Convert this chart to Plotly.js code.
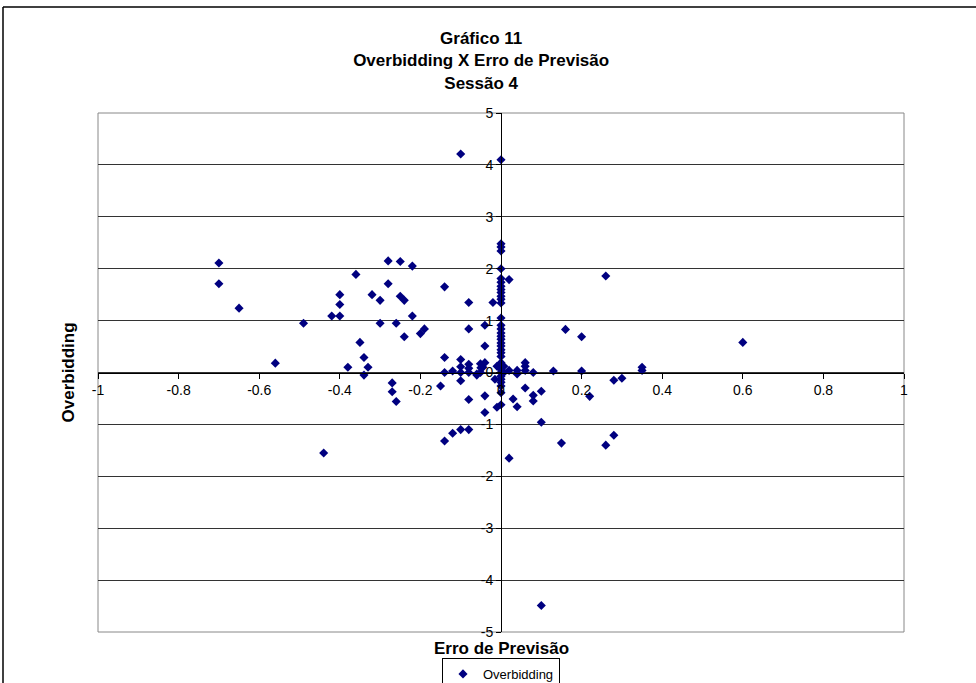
<!DOCTYPE html>
<html>
<head>
<meta charset="utf-8">
<script src="https://cdn.plot.ly/plotly-3.0.1.min.js"></script>
<style>html,body{margin:0;padding:0;background:#fff;}#chart{width:976px;height:683px;}</style>
</head>
<body>
<div id="chart"></div>
<script>
// Erro de Previsão (x) and Overbidding (y)
const erroPrevisao = [
  -0.70,-0.70,-0.65,-0.56,-0.49,-0.44,-0.42,-0.40,-0.40,-0.40,
  -0.38,-0.36,-0.35,-0.34,-0.34,-0.33,-0.32,-0.30,-0.30,-0.28,
  -0.28,-0.27,-0.27,-0.26,-0.26,-0.25,-0.25,-0.24,-0.24,-0.22,
  -0.22,-0.20,-0.19,-0.14,-0.14,-0.14,-0.15,-0.14,-0.12,-0.12,
  -0.10,-0.10,-0.10,-0.10,-0.10,-0.10,-0.08,-0.08,-0.08,-0.08,
  -0.08,-0.08,-0.08,-0.06,-0.051,-0.05,-0.04,-0.045,-0.06,-0.051,
  -0.04,-0.04,-0.04,-0.04,-0.02,-0.015,-0.01,-0.01,0.0,
  0,0,0,0,0,0,0,0,0,0,
  0,0,0,0,0,0,0,0,0,0,
  0,0,0,0,0,0,0,0,0,0,
  0,0,0,
  0.007,0.007,
  0.02,0.02,0.02,0.03,0.04,0.04,0.04,0.06,0.06,0.06,
  0.06,0.08,0.08,0.08,0.10,0.10,0.13,0.15,0.16,0.20,
  0.20,0.22,0.26,0.26,0.28,0.28,0.30,0.35,0.35,0.60,
  0.10
];
const overbidding = [
  2.11,1.71,1.24,0.18,0.95,-1.55,1.09,1.09,1.31,1.50,
  0.10,1.89,0.58,0.29,-0.05,0.10,1.50,1.39,0.95,2.15,
  1.71,-0.20,-0.37,-0.56,0.95,2.14,1.47,1.39,0.69,2.05,
  1.09,0.75,0.84,1.65,0.29,0.00,-0.26,-1.32,0.03,-1.17,
  4.21,0.25,0.11,0.00,-0.16,-1.10,1.35,0.84,0.16,0.08,
  0.00,-0.52,-1.10,-0.03,0.17,0.09,0.19,0.10,-0.05,0.00,
  0.91,0.51,-0.45,-0.77,1.35,-0.13,0.12,-0.67,-0.62,
  4.10,2.48,2.42,2.34,2.00,1.81,1.74,1.66,1.60,1.54,
  1.47,1.41,1.34,1.05,0.91,0.84,0.76,0.70,0.64,0.57,
  0.51,0.44,0.38,0.31,0.19,0.12,0.06,0.00,-0.07,-0.13,
  -0.19,-0.26,-0.39,
  0.12,0.00,
  1.79,0.04,-1.65,-0.51,0.04,-0.03,-0.66,0.19,0.12,0.04,
  -0.30,0.00,-0.44,-0.55,-0.36,-0.96,0.03,-1.36,0.83,0.69,
  0.03,-0.46,1.86,-1.40,-1.21,-0.15,-0.11,0.10,0.04,0.58,
  -4.49
];
const xTickVals = [-1,-0.8,-0.6,-0.4,-0.2,0,0.2,0.4,0.6,0.8,1];
const xTickText = ["-1","-0.8","-0.6","-0.4","-0.2","0","0.2","0.4","0.6","0.8","1"];
const yTickVals = [-5,-4,-3,-2,-1,0,1,2,3,4,5];
const yTickText = ["-5","-4","-3","-2","-1","0","1","2","3","4","5"];

const FONT = '"Liberation Sans", Arial, sans-serif';

const trace = {
  type: 'scatter', mode: 'markers', name: 'Overbidding',
  x: erroPrevisao, y: overbidding,
  marker: {symbol: 'diamond', size: 7, color: '#000080', line: {width: 0}}
};

const layout = {
  width: 976, height: 683,
  paper_bgcolor: '#ffffff', plot_bgcolor: '#ffffff',
  font: {family: FONT, size: 13, color: '#000'},
  margin: {l: 98, r: 72, t: 113, b: 51, autoexpand: false},
  title: {
    text: '<b>Gráfico 11<br>Overbidding X Erro de Previsão<br>Sessão 4</b>',
    font: {family: FONT, size: 17, color: '#000'},
    x: 0.493, xanchor: 'center', xref: 'container',
    y: 0.935, yanchor: 'top', yref: 'container'
  },
  xaxis: {
    range: [-1, 1], tickvals: xTickVals, ticktext: xTickText,
    anchor: 'free', position: 0.5,
    showline: true, linecolor: '#000', linewidth: 1,
    ticks: 'outside', ticklen: 5, tickcolor: '#000',
    showgrid: false, zeroline: false,
    tickfont: {family: FONT, size: 14, color: '#000'}
  },
  yaxis: {
    range: [-5, 5], tickvals: yTickVals, ticktext: yTickText,
    anchor: 'free', position: 0.5,
    showline: true, linecolor: '#000', linewidth: 1,
    ticks: 'outside', ticklen: 5, tickcolor: '#000',
    showgrid: true, gridcolor: '#333', gridwidth: 1,
    zeroline: false,
    tickfont: {family: FONT, size: 14, color: '#000'}
  },
  showlegend: true,
  legend: {
    orientation: 'h', x: 0.5, xanchor: 'center', xref: 'paper',
    y: -0.050, yanchor: 'top',
    bordercolor: '#000', borderwidth: 1, bgcolor: '#fff',
    font: {family: FONT, size: 13, color: '#000'}
  },
  shapes: [
    {type: 'rect', xref: 'paper', yref: 'paper', x0: 0, x1: 1, y0: 0, y1: 1,
     line: {color: '#888', width: 1}, fillcolor: 'rgba(0,0,0,0)', layer: 'below'},
    {type: 'line', xref: 'paper', yref: 'paper', x0: -95/806, x1: 1.2, y0: 1 + 106/519, y1: 1 + 106/519,
     line: {color: '#000', width: 1.5}},
    {type: 'line', xref: 'paper', yref: 'paper', x0: -95/806, x1: -95/806, y0: -0.2, y1: 1 + 106/519,
     line: {color: '#000', width: 1.5}}
  ],
  annotations: [
    {text: '<b>Erro de Previsão</b>', xref: 'paper', yref: 'paper', x: 0.5, y: -16/519,
     xanchor: 'center', yanchor: 'middle', showarrow: false,
     font: {family: FONT, size: 17, color: '#000'}},
    {text: '<b>Overbidding</b>', xref: 'paper', yref: 'paper', x: -30/806, y: 0.5,
     xanchor: 'center', yanchor: 'middle', showarrow: false, textangle: -90,
     font: {family: FONT, size: 17, color: '#000'}}
  ]
};

Plotly.newPlot('chart', [trace], layout, {displayModeBar: false, staticPlot: true});
</script>
</body>
</html>
